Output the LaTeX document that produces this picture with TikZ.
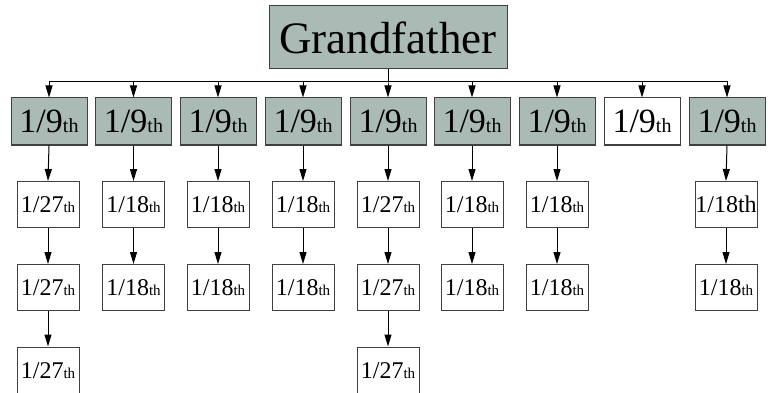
\documentclass[tikz,border=0pt]{standalone}
\usepackage{fontspec}
\setmainfont{Liberation Serif}
\usetikzlibrary{arrows.meta}
\definecolor{boxgray}{RGB}{170,186,181}
\definecolor{edgegray}{RGB}{64,64,64}
\newcommand\ninth{{\fontsize{34}{34}\selectfont 1/9}{\fontsize{20}{20}\selectfont th}}
\newcommand\smallfr[1]{{\fontsize{24}{24}\selectfont 1/#1}{\fontsize{15}{15}\selectfont th}}
\begin{document}
\begin{tikzpicture}[x=1pt,y=-1pt,
  base/.style={draw=edgegray,line width=1pt,rectangle,inner sep=0pt,anchor=center},
  gbox/.style={base,fill=boxgray,minimum width=76pt,minimum height=47pt},
  wbox/.style={base,fill=white,minimum width=76pt,minimum height=47pt},
  sbox/.style={base,fill=white,minimum width=62pt,minimum height=46pt},
  arr/.style={line width=1pt,-{Triangle[length=12pt,width=7pt]}}]
\useasboundingbox (0,0) rectangle (768,393);
\node[base,fill=boxgray,minimum width=238pt,minimum height=63pt] (gf) at (388,37.5)
  {\fontsize{45}{45}\selectfont Grandfather};
\coordinate (bus) at (388,82);
% row 1
\node[gbox] (a1) at (49,121.5) {\ninth};
\node[gbox] (a2) at (133.5,121.5) {\ninth};
\node[gbox] (a3) at (218,121.5) {\ninth};
\node[gbox] (a4) at (303,121.5) {\ninth};
\node[gbox] (a5) at (388,121.5) {\ninth};
\node[gbox] (a6) at (472,121.5) {\ninth};
\node[gbox] (a7) at (557,121.5) {\ninth};
\node[wbox] (a8) at (642,121.5) {\ninth};
\node[gbox] (a9) at (727,121.5) {\ninth};
\foreach \i in {1,...,9} {
  \draw[arr] (gf.south) -- (gf.south |- bus) -| (a\i.north);
}
% row 2
\node[sbox] (b1) at (48,204.5) {\smallfr{27}};
\node[sbox] (b2) at (133.5,204.5) {\smallfr{18}};
\node[sbox] (b3) at (218,204.5) {\smallfr{18}};
\node[sbox] (b4) at (303,204.5) {\smallfr{18}};
\node[sbox] (b5) at (388,204.5) {\smallfr{27}};
\node[sbox] (b6) at (472,204.5) {\smallfr{18}};
\node[sbox] (b7) at (557,204.5) {\smallfr{18}};
\node[sbox] (b9) at (726,204.5) {\fontsize{24}{24}\selectfont 1/18th};
% row 3
\node[sbox] (c1) at (48,287.5) {\smallfr{27}};
\node[sbox] (c2) at (133.5,287.5) {\smallfr{18}};
\node[sbox] (c3) at (218,287.5) {\smallfr{18}};
\node[sbox] (c4) at (303,287.5) {\smallfr{18}};
\node[sbox] (c5) at (388,287.5) {\smallfr{27}};
\node[sbox] (c6) at (472,287.5) {\smallfr{18}};
\node[sbox] (c7) at (557,287.5) {\smallfr{18}};
\node[sbox] (c9) at (726,287.5) {\smallfr{18}};
% row 4
\node[sbox,minimum height=47pt] (d1) at (48,370.5) {\smallfr{27}};
\node[sbox,minimum height=47pt] (d5) at (388,370.5) {\smallfr{27}};
% connectors
\foreach \i in {1,2,3,4,5,6,7,9} {
  \draw[arr] (a\i.south) -- (b\i.north);
  \draw[arr] (b\i.south) -- (c\i.north);
}
\draw[arr] (c1.south) -- (d1.north);
\draw[arr] (c5.south) -- (d5.north);
\end{tikzpicture}
\end{document}
